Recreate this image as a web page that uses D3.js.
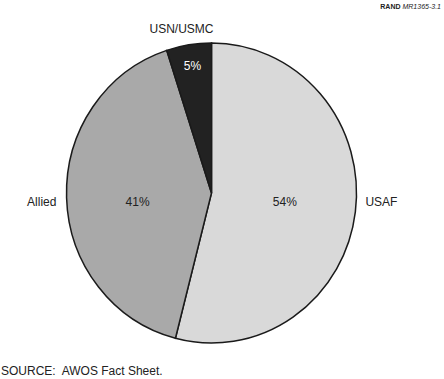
<!DOCTYPE html>
<html>
<head>
<meta charset="utf-8">
<script src="https://cdn.jsdelivr.net/npm/d3@7"></script>
<style>
  body { margin: 0; background: #fff; }
  text { font-family: "Liberation Sans", Arial, sans-serif; fill: #222; }
</style>
</head>
<body>
<svg id="chart" width="444" height="379"></svg>
<script>
// slice order is clockwise from 12 o'clock
const services = ['USAF', 'Allied', 'USN/USMC'];
const shares = [54, 41, 5];
const fills = ['#d9d9d9', '#a9a9a9', '#222222'];

const width = 444, height = 379;
const cx = 211.5, cy = 193;
const ry = 150, rx = 145;

const svg = d3.select('#chart');

const pie = d3.pie().sort(null).value(d => d.value);
const arcs = pie(services.map((s, i) => ({ name: s, value: shares[i], fill: fills[i] })));

const arc = d3.arc().innerRadius(0).outerRadius(ry);

// the scanned pie is slightly squashed horizontally
const g = svg.append('g')
    .attr('transform', `translate(${cx},${cy}) scale(${rx / ry},1)`);

g.selectAll('path')
  .data(arcs)
  .join('path')
    .attr('d', arc)
    .attr('fill', d => d.data.fill)
    .attr('stroke', '#1a1a1a')
    .attr('stroke-width', 1.5)
    .attr('vector-effect', 'non-scaling-stroke');

function pt(a, f) {
    return [cx + Math.sin(a) * rx * f, cy - Math.cos(a) * ry * f];
}
const mid = d => (d.startAngle + d.endAngle) / 2;
const small = d => d.data.value < 10;
const side = d => Math.abs(Math.sin(mid(d))) > 0.3;

// percentages inside; big slices are labelled level with the centre
svg.selectAll('.pct')
  .data(arcs)
  .join('text')
    .attr('class', 'pct')
    .attr('text-anchor', 'middle')
    .attr('font-size', 12)
    .attr('x', d => pt(mid(d), small(d) ? 0.84 : 0.51)[0])
    .attr('y', d => small(d) ? pt(mid(d), 0.86)[1] + 4 : cy + 13)
    .style('fill', d => small(d) ? '#fff' : '#222')
    .text(d => d.data.value + '%');

// service names outside
svg.selectAll('.name')
  .data(arcs)
  .join('text')
    .attr('class', 'name')
    .attr('font-size', 12)
    .attr('text-anchor', d => !side(d) ? 'middle' : (Math.sin(mid(d)) > 0 ? 'start' : 'end'))
    .attr('x', d => side(d) ? pt(mid(d), 1.07)[0] : pt(mid(d), 1.1)[0] - 5)
    .attr('y', d => side(d) ? cy + 13 : pt(mid(d), 1.08)[1])
    .text(d => d.data.name);

// figure id, top right
const fig = svg.append('text')
    .attr('x', 441).attr('y', 9)
    .attr('text-anchor', 'end')
    .attr('font-size', 7);
fig.append('tspan').attr('font-weight', 'bold').text('RAND ');
fig.append('tspan').attr('font-style', 'italic').text('MR1365-3.1');

svg.append('text')
    .attr('x', 1).attr('y', 375)
    .attr('font-size', 12)
    .attr('xml:space', 'preserve')
    .text('SOURCE:  AWOS Fact Sheet.');
</script>
</body>
</html>
